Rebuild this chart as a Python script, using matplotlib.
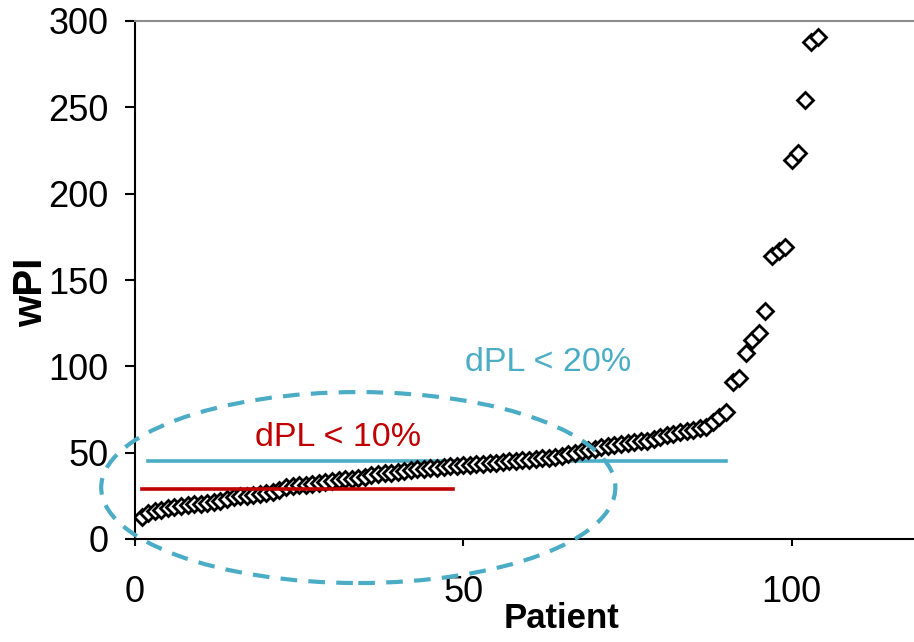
import matplotlib
matplotlib.use('Agg')
from matplotlib import pyplot as plt
from matplotlib.patches import Ellipse

plt.rcParams['font.family'] = ['Liberation Sans', 'DejaVu Sans']

# wPI per patient, sorted ascending
patient = list(range(1, 105))
wpi = [
    13, 15, 16, 17, 18, 18.5, 19, 19.5, 20, 20.5,
    21, 21.5, 22, 23, 24.5, 25, 25, 25.5, 26, 26.5,
    27.5, 28.5, 30, 30.5, 31, 31.5, 32, 32.5, 33, 33.5,
    34, 34.5, 35, 35.5, 36, 37, 37.5, 38, 38.5, 39,
    39.5, 40, 40.5, 40.8, 41, 41.3, 41.6, 42, 42.3, 42.6,
    43, 43.3, 43.7, 44, 44.3, 44.6, 45, 45.3, 45.6, 46,
    46.4, 46.8, 47.2, 47.6, 48, 49, 50, 51, 51.5, 52,
    53, 54, 54.5, 55, 55.5, 56, 56.5, 57, 58, 59,
    60, 61, 62, 62.5, 63, 64, 65, 68, 70.5, 73.5,
    91, 93.5, 108, 115.5, 119.5, 132, 164, 167, 169, 219.5,
    223.5, 254, 288, 290.5,
]

# threshold lines: (x start, x end, level)
dpl20 = (2, 90, 45)
dpl10 = (1, 48.5, 29)

BLUE = '#4BACC6'
RED = '#C00000'

fig = plt.figure(figsize=(9.14, 6.42), dpi=100)
ax = fig.add_axes([135 / 914, 103 / 642, 788 / 914, 518 / 642])

ax.plot(patient, wpi, linestyle='none', marker='D', markersize=8.5,
        markerfacecolor='white', markeredgecolor='black',
        markeredgewidth=2, zorder=3)

ax.plot([dpl20[0], dpl20[1]], [dpl20[2], dpl20[2]], color=BLUE, lw=2.6, zorder=2)
ax.plot([dpl10[0], dpl10[1]], [dpl10[2], dpl10[2]], color=RED, lw=2.6, zorder=4)

ax.text(62.9, 102.5, 'dPL < 20%', color=BLUE, fontsize=24.5,
        ha='center', va='center')
ax.text(30.9, 59, 'dPL < 10%', color=RED, fontsize=24.5,
        ha='center', va='center')

ell = Ellipse((34, 29.8), 78.3, 110.6, fill=False, edgecolor=BLUE,
              lw=3, clip_on=False, zorder=5)
ell.set_linestyle((0, (4, 2.7)))
ax.add_patch(ell)

ax.set_xlim(0, 120)
ax.set_ylim(0, 300)
ax.set_xticks([0, 50, 100])
ax.set_yticks(range(0, 301, 50))

ax.spines['right'].set_visible(False)
ax.spines['top'].set_color('#8c8c8c')
ax.spines['top'].set_linewidth(1.5)
ax.spines['left'].set_linewidth(1.5)
ax.spines['bottom'].set_linewidth(1.5)
ax.tick_params(axis='y', direction='out', length=7, width=1.5,
               labelsize=26, pad=12)
ax.tick_params(axis='x', direction='out', length=5, width=1.5,
               labelsize=26, pad=21)

fig.text(562 / 914, 1 - 618 / 642, 'Patient', fontsize=25,
         fontweight='bold', ha='center', va='center')
fig.text(31 / 914, 1 - 292 / 642, 'wPI', fontsize=29,
         fontweight='bold', ha='center', va='center', rotation=90)

plt.savefig('out.png', dpi=100)
